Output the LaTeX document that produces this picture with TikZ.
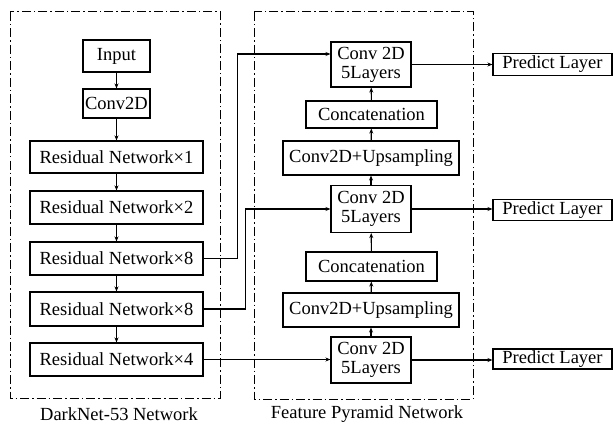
\documentclass[tikz,border=0pt]{standalone}
\usepackage{fontspec}
\setmainfont{Liberation Serif}
\usetikzlibrary{arrows.meta}
\begin{document}
\begin{tikzpicture}[x=1pt,y=-1pt,
  every node/.style={font=\fontsize{18.5}{19}\selectfont},
  box/.style={draw,line width=1.1pt,inner sep=0pt,align=center},
  arr/.style={line width=1.1pt,-{Stealth[length=5pt,width=4pt]}},
  frame/.style={line width=1pt,dash pattern=on 9pt off 3pt on 1.5pt off 3pt}]
\useasboundingbox (0,0) rectangle (613,425);
% frames
\draw[frame] (10,12) rectangle (220,398);
\draw[frame] (254,12) rectangle (473,399);
\node[inner sep=0pt] (lab1) at (119,414.5) {DarkNet-53 Network};
\node[inner sep=0pt] (lab2) at (367,414.5) {Feature Pyramid Network};
% left column
\node[box,minimum width=67pt,minimum height=32pt] (in) at (116.5,56) {Input};
\node[box,minimum width=67pt,minimum height=29pt] (cv) at (116.5,103.5) {Conv2D};
\node[box,minimum width=173pt,minimum height=32pt] (r1) at (116.5,157) {Residual Network×1};
\node[box,minimum width=173pt,minimum height=33pt] (r2) at (116.5,207.5) {Residual Network×2};
\node[box,minimum width=173pt,minimum height=33pt] (r8a) at (116.5,258.5) {Residual Network×8};
\node[box,minimum width=173pt,minimum height=34pt] (r8b) at (116.5,309) {Residual Network×8};
\node[box,minimum width=173pt,minimum height=33pt] (r4) at (116.5,359.5) {Residual Network×4};
\draw[arr] (in) -- (cv);
\draw[arr] (cv) -- (r1);
\draw[arr] (r1) -- (r2);
\draw[arr] (r2) -- (r8a);
\draw[arr] (r8a) -- (r8b);
\draw[arr] (r8b) -- (r4);
% FPN column
\node[box,minimum width=80pt,minimum height=45pt] (c5a) at (371,64.5) {Conv 2D\\5Layers};
\node[box,minimum width=131pt,minimum height=27pt] (cat1) at (371.5,114.5) {Concatenation};
\node[box,minimum width=176pt,minimum height=34pt] (up1) at (371,158) {Conv2D+Upsampling};
\node[box,minimum width=80pt,minimum height=47pt] (c5b) at (371,209) {Conv 2D\\5Layers};
\node[box,minimum width=131pt,minimum height=29pt] (cat2) at (371.5,266.5) {Concatenation};
\node[box,minimum width=176pt,minimum height=34pt] (up2) at (371,310) {Conv2D+Upsampling};
\node[box,minimum width=80pt,minimum height=46pt] (c5c) at (371,360) {Conv 2D\\5Layers};
\draw[arr] (c5c) -- (up2);
\draw[arr] (up2) -- (cat2);
\draw[arr] (cat2) -- (c5b);
\draw[arr] (c5b) -- (up1);
\draw[arr] (up1) -- (cat1);
\draw[arr] (cat1) -- (c5a);
% predict layers
\node[box,minimum width=119pt,minimum height=22pt] (p1) at (552.5,64.5) {Predict Layer};
\node[box,minimum width=119pt,minimum height=21pt] (p2) at (552.5,210) {Predict Layer};
\node[box,minimum width=119pt,minimum height=20pt] (p3) at (552.5,359) {Predict Layer};
\draw[arr] (c5a.east) -- (c5a.east -| p1.west);
\draw[arr] (c5b.east) -- (c5b.east -| p2.west);
\draw[arr] (c5c.east) -- (c5c.east -| p3.west);
% lateral connections
\draw[arr] (r8a.east) -- ++(34,0) |- ([yshift=10.5pt]c5a.west);
\draw[arr] (r8b.east) -- ++(42,0) |- (c5b.west);
\draw[arr] (r4.east) -- (r4.east -| c5c.west);
\end{tikzpicture}
\end{document}
